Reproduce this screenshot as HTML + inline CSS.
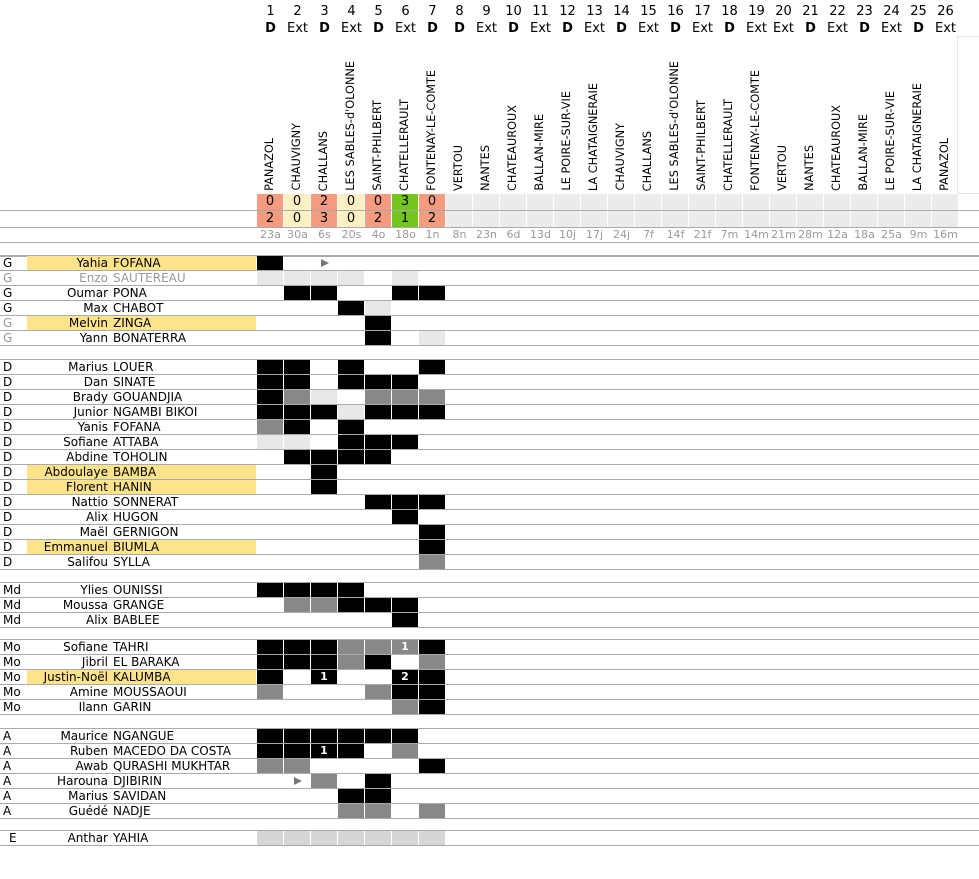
<!DOCTYPE html>
<html><head><meta charset="utf-8"><style>
body{margin:0;background:#fff;font-family:"DejaVu Sans","Liberation Sans",sans-serif;}
#w{position:relative;width:979px;height:879px;overflow:hidden;}
.a{position:absolute;}
.n{font-size:13px;text-align:center;width:27px;top:4px;}
.t{font-size:13px;text-align:center;width:27px;top:21px;}
.t b{font-weight:bold}
.v{position:absolute;bottom:688px;writing-mode:vertical-rl;transform:rotate(180deg);font-size:11.3px;white-space:nowrap;line-height:14px;}
.d{font-size:11px;color:#999;text-align:center;width:27px;top:228px;}
.hl{position:absolute;height:1px;background:#aaa;left:0;width:979px;}
.p{position:absolute;left:3px;font-size:12px;line-height:15px;}
.fn{position:absolute;right:871px;font-size:12px;line-height:15px;text-align:right;white-space:nowrap;}
.ln{position:absolute;left:113px;font-size:12px;line-height:15px;white-space:nowrap;}
.y{position:absolute;left:27px;width:229px;height:14px;background:#fde38a;}
.c{position:absolute;width:26px;height:14px;color:#fff;font-weight:bold;font-size:11px;text-align:center;line-height:14px;}
.s{position:absolute;width:26px;height:16px;font-size:13px;text-align:center;line-height:16px;}
</style></head><body><div id="w">
<div class="hl" style="top:210px"></div>
<div class="hl" style="top:227px"></div>
<div class="hl" style="top:242px"></div>
<div class="hl" style="top:256px"></div>
<div class="a" style="left:957px;top:36px;width:1px;height:157px;background:#e4e4e4"></div>
<div class="a" style="left:957px;top:36px;width:22px;height:1px;background:#e4e4e4"></div>
<div class="a" style="left:957px;top:193px;width:22px;height:1px;background:#e4e4e4"></div>

<div class="a n" style="left:257px">1</div><div class="a n" style="left:284px">2</div><div class="a n" style="left:311px">3</div><div class="a n" style="left:338px">4</div><div class="a n" style="left:365px">5</div><div class="a n" style="left:392px">6</div><div class="a n" style="left:419px">7</div><div class="a n" style="left:446px">8</div><div class="a n" style="left:473px">9</div><div class="a n" style="left:500px">10</div><div class="a n" style="left:527px">11</div><div class="a n" style="left:554px">12</div><div class="a n" style="left:581px">13</div><div class="a n" style="left:608px">14</div><div class="a n" style="left:635px">15</div><div class="a n" style="left:662px">16</div><div class="a n" style="left:689px">17</div><div class="a n" style="left:716px">18</div><div class="a n" style="left:743px">19</div><div class="a n" style="left:770px">20</div><div class="a n" style="left:797px">21</div><div class="a n" style="left:824px">22</div><div class="a n" style="left:851px">23</div><div class="a n" style="left:878px">24</div><div class="a n" style="left:905px">25</div><div class="a n" style="left:932px">26</div>

<div class="a t" style="left:257px"><b>D</b></div><div class="a t" style="left:284px">Ext</div><div class="a t" style="left:311px"><b>D</b></div><div class="a t" style="left:338px">Ext</div><div class="a t" style="left:365px"><b>D</b></div><div class="a t" style="left:392px">Ext</div><div class="a t" style="left:419px"><b>D</b></div><div class="a t" style="left:446px"><b>D</b></div><div class="a t" style="left:473px">Ext</div><div class="a t" style="left:500px"><b>D</b></div><div class="a t" style="left:527px">Ext</div><div class="a t" style="left:554px"><b>D</b></div><div class="a t" style="left:581px">Ext</div><div class="a t" style="left:608px"><b>D</b></div><div class="a t" style="left:635px">Ext</div><div class="a t" style="left:662px"><b>D</b></div><div class="a t" style="left:689px">Ext</div><div class="a t" style="left:716px"><b>D</b></div><div class="a t" style="left:743px">Ext</div><div class="a t" style="left:770px">Ext</div><div class="a t" style="left:797px"><b>D</b></div><div class="a t" style="left:824px">Ext</div><div class="a t" style="left:851px"><b>D</b></div><div class="a t" style="left:878px">Ext</div><div class="a t" style="left:905px"><b>D</b></div><div class="a t" style="left:932px">Ext</div>

<div class="v" style="left:263px">PANAZOL</div><div class="v" style="left:290px">CHAUVIGNY</div><div class="v" style="left:317px">CHALLANS</div><div class="v" style="left:344px">LES SABLES-d'OLONNE</div><div class="v" style="left:371px">SAINT-PHILBERT</div><div class="v" style="left:398px">CHATELLERAULT</div><div class="v" style="left:425px">FONTENAY-LE-COMTE</div><div class="v" style="left:452px">VERTOU</div><div class="v" style="left:479px">NANTES</div><div class="v" style="left:506px">CHATEAUROUX</div><div class="v" style="left:533px">BALLAN-MIRE</div><div class="v" style="left:560px">LE POIRE-SUR-VIE</div><div class="v" style="left:587px">LA CHATAIGNERAIE</div><div class="v" style="left:614px">CHAUVIGNY</div><div class="v" style="left:641px">CHALLANS</div><div class="v" style="left:668px">LES SABLES-d'OLONNE</div><div class="v" style="left:695px">SAINT-PHILBERT</div><div class="v" style="left:722px">CHATELLERAULT</div><div class="v" style="left:749px">FONTENAY-LE-COMTE</div><div class="v" style="left:776px">VERTOU</div><div class="v" style="left:803px">NANTES</div><div class="v" style="left:830px">CHATEAUROUX</div><div class="v" style="left:857px">BALLAN-MIRE</div><div class="v" style="left:884px">LE POIRE-SUR-VIE</div><div class="v" style="left:911px">LA CHATAIGNERAIE</div><div class="v" style="left:938px">PANAZOL</div>

<div class="s" style="left:257px;top:194px;background:#f59b80">0</div><div class="s" style="left:284px;top:194px;background:#fdf0c2">0</div><div class="s" style="left:311px;top:194px;background:#f59b80">2</div><div class="s" style="left:338px;top:194px;background:#fdf0c2">0</div><div class="s" style="left:365px;top:194px;background:#f59b80">0</div><div class="s" style="left:392px;top:194px;background:#74c61f">3</div><div class="s" style="left:419px;top:194px;background:#f59b80">0</div>
<div class="s" style="left:257px;top:211px;background:#f59b80">2</div><div class="s" style="left:284px;top:211px;background:#fdf0c2">0</div><div class="s" style="left:311px;top:211px;background:#f59b80">3</div><div class="s" style="left:338px;top:211px;background:#fdf0c2">0</div><div class="s" style="left:365px;top:211px;background:#f59b80">2</div><div class="s" style="left:392px;top:211px;background:#74c61f">1</div><div class="s" style="left:419px;top:211px;background:#f59b80">2</div>

<div class="a d" style="left:257px">23a</div><div class="a d" style="left:284px">30a</div><div class="a d" style="left:311px">6s</div><div class="a d" style="left:338px">20s</div><div class="a d" style="left:365px">4o</div><div class="a d" style="left:392px">18o</div><div class="a d" style="left:419px">1n</div><div class="a d" style="left:446px">8n</div><div class="a d" style="left:473px">23n</div><div class="a d" style="left:500px">6d</div><div class="a d" style="left:527px">13d</div><div class="a d" style="left:554px">10j</div><div class="a d" style="left:581px">17j</div><div class="a d" style="left:608px">24j</div><div class="a d" style="left:635px">7f</div><div class="a d" style="left:662px">14f</div><div class="a d" style="left:689px">21f</div><div class="a d" style="left:716px">7m</div><div class="a d" style="left:743px">14m</div><div class="a d" style="left:770px">21m</div><div class="a d" style="left:797px">28m</div><div class="a d" style="left:824px">12a</div><div class="a d" style="left:851px">18a</div><div class="a d" style="left:878px">25a</div><div class="a d" style="left:905px">9m</div><div class="a d" style="left:932px">16m</div>

<div id="rows">
<div class="y" style="top:256px"></div><div class="p" style="top:256px">G</div><div class="fn" style="top:256px">Yahia</div><div class="ln" style="top:256px">FOFANA</div>
<div class="p" style="top:271px;color:#999">G</div><div class="fn" style="top:271px;color:#999">Enzo</div><div class="ln" style="top:271px;color:#999">SAUTEREAU</div>
<div class="p" style="top:286px">G</div><div class="fn" style="top:286px">Oumar</div><div class="ln" style="top:286px">PONA</div>
<div class="p" style="top:301px">G</div><div class="fn" style="top:301px">Max</div><div class="ln" style="top:301px">CHABOT</div>
<div class="y" style="top:316px"></div><div class="p" style="top:316px;color:#999">G</div><div class="fn" style="top:316px">Melvin</div><div class="ln" style="top:316px">ZINGA</div>
<div class="p" style="top:331px;color:#999">G</div><div class="fn" style="top:331px">Yann</div><div class="ln" style="top:331px">BONATERRA</div>
<div class="p" style="top:360px">D</div><div class="fn" style="top:360px">Marius</div><div class="ln" style="top:360px">LOUER</div>
<div class="p" style="top:375px">D</div><div class="fn" style="top:375px">Dan</div><div class="ln" style="top:375px">SINATE</div>
<div class="p" style="top:390px">D</div><div class="fn" style="top:390px">Brady</div><div class="ln" style="top:390px">GOUANDJIA</div>
<div class="p" style="top:405px">D</div><div class="fn" style="top:405px">Junior</div><div class="ln" style="top:405px">NGAMBI BIKOI</div>
<div class="p" style="top:420px">D</div><div class="fn" style="top:420px">Yanis</div><div class="ln" style="top:420px">FOFANA</div>
<div class="p" style="top:435px">D</div><div class="fn" style="top:435px">Sofiane</div><div class="ln" style="top:435px">ATTABA</div>
<div class="p" style="top:450px">D</div><div class="fn" style="top:450px">Abdine</div><div class="ln" style="top:450px">TOHOLIN</div>
<div class="y" style="top:465px"></div><div class="p" style="top:465px">D</div><div class="fn" style="top:465px">Abdoulaye</div><div class="ln" style="top:465px">BAMBA</div>
<div class="y" style="top:480px"></div><div class="p" style="top:480px">D</div><div class="fn" style="top:480px">Florent</div><div class="ln" style="top:480px">HANIN</div>
<div class="p" style="top:495px">D</div><div class="fn" style="top:495px">Nattio</div><div class="ln" style="top:495px">SONNERAT</div>
<div class="p" style="top:510px">D</div><div class="fn" style="top:510px">Alix</div><div class="ln" style="top:510px">HUGON</div>
<div class="p" style="top:525px">D</div><div class="fn" style="top:525px">Maël</div><div class="ln" style="top:525px">GERNIGON</div>
<div class="y" style="top:540px"></div><div class="p" style="top:540px">D</div><div class="fn" style="top:540px">Emmanuel</div><div class="ln" style="top:540px">BIUMLA</div>
<div class="p" style="top:555px">D</div><div class="fn" style="top:555px">Salifou</div><div class="ln" style="top:555px">SYLLA</div>
<div class="p" style="top:583px">Md</div><div class="fn" style="top:583px">Ylies</div><div class="ln" style="top:583px">OUNISSI</div>
<div class="p" style="top:598px">Md</div><div class="fn" style="top:598px">Moussa</div><div class="ln" style="top:598px">GRANGE</div>
<div class="p" style="top:613px">Md</div><div class="fn" style="top:613px">Alix</div><div class="ln" style="top:613px">BABLEE</div>
<div class="p" style="top:640px">Mo</div><div class="fn" style="top:640px">Sofiane</div><div class="ln" style="top:640px">TAHRI</div>
<div class="p" style="top:655px">Mo</div><div class="fn" style="top:655px">Jibril</div><div class="ln" style="top:655px">EL BARAKA</div>
<div class="y" style="top:670px"></div><div class="p" style="top:670px">Mo</div><div class="fn" style="top:670px">Justin-Noël</div><div class="ln" style="top:670px">KALUMBA</div>
<div class="p" style="top:685px">Mo</div><div class="fn" style="top:685px">Amine</div><div class="ln" style="top:685px">MOUSSAOUI</div>
<div class="p" style="top:700px">Mo</div><div class="fn" style="top:700px">Ilann</div><div class="ln" style="top:700px">GARIN</div>
<div class="p" style="top:729px">A</div><div class="fn" style="top:729px">Maurice</div><div class="ln" style="top:729px">NGANGUE</div>
<div class="p" style="top:744px">A</div><div class="fn" style="top:744px">Ruben</div><div class="ln" style="top:744px">MACEDO DA COSTA</div>
<div class="p" style="top:759px">A</div><div class="fn" style="top:759px">Awab</div><div class="ln" style="top:759px">QURASHI MUKHTAR</div>
<div class="p" style="top:774px">A</div><div class="fn" style="top:774px">Harouna</div><div class="ln" style="top:774px">DJIBIRIN</div>
<div class="p" style="top:789px">A</div><div class="fn" style="top:789px">Marius</div><div class="ln" style="top:789px">SAVIDAN</div>
<div class="p" style="top:804px">A</div><div class="fn" style="top:804px">Guédé</div><div class="ln" style="top:804px">NADJE</div>
<div class="p" style="top:831px;left:9px">E</div><div class="fn" style="top:831px">Anthar</div><div class="ln" style="top:831px">YAHIA</div>
</div>
<div id="cells"></div>
<script>
var tops=[256,271,286,301,316,331,360,375,390,405,420,435,450,465,480,495,510,525,540,555,583,598,613,640,655,670,685,700,729,744,759,774,789,804,831];
var d=["B.>....","LLLL.L.",".BB..BB","...BL..","....B..","....B.L",
"BB.B..B","BB.BBB.","BGL.GGG","BBBLBBB","GB.B...","LL.BBB.",".BBBB..","..B....","..B....","....BBB",".....B.","......B","......B","......G",
"BBBB...",".GGBBB.",".....B.",
"BBBGGgB","BBBGB.G","B.b..cB","G...GBB",".....GB",
"BBBBBB.","BBbB.G.","GG....B",".>G.B..","...BB..","...GG.G","EEEEEEE"];
var h="";
tops.forEach(function(t,r){
 h+='<div class="hl" style="top:'+(t+14)+'px"></div>';
 if(r==0||r==6||r==20||r==23||r==28||r==34)h+='<div class="hl" style="top:'+(t-1)+'px"></div>';
 for(var i=0;i<7;i++){var ch=d[r][i],x=257+i*27,bg=null,tx="";
  if(ch=="B")bg="#000";else if(ch=="G")bg="#888";else if(ch=="L")bg="#e8e8e8";else if(ch=="E")bg="#d6d6d6";
  else if(ch=="g"){bg="#888";tx="1";}else if(ch=="b"){bg="#000";tx="1";}else if(ch=="c"){bg="#000";tx="2";}
  else if(ch==">"){h+='<div class="a" style="left:'+(x+10)+'px;top:'+(t+3)+'px;width:0;height:0;border-left:8px solid #777;border-top:4px solid transparent;border-bottom:4px solid transparent"></div>';}
  if(bg)h+='<div class="c" style="left:'+x+'px;top:'+t+'px;background:'+bg+'">'+tx+'</div>';}
});
for(var i=7;i<26;i++){var x=257+i*27;h+='<div class="a" style="left:'+x+'px;top:194px;width:26px;height:16px;background:#ebebeb"></div><div class="a" style="left:'+x+'px;top:211px;width:26px;height:16px;background:#ebebeb"></div>';}
document.getElementById("cells").innerHTML=h;
</script>
</div></body></html>
